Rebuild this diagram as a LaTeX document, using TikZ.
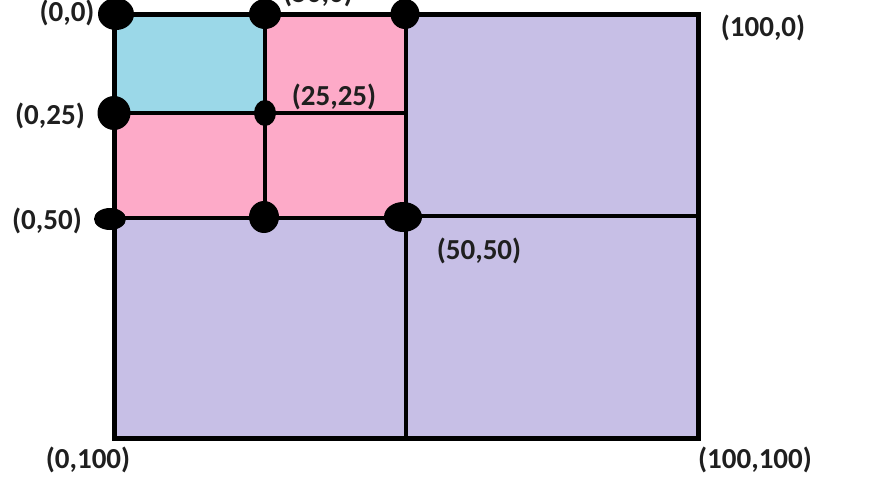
\documentclass[tikz,border=0pt]{standalone}
\usepackage{fontspec}
\setmainfont{Carlito}
\usetikzlibrary{positioning}
\usetikzlibrary{shapes.geometric}

\definecolor{cellcyan}{HTML}{9BD8E8}
\definecolor{cellpink}{HTML}{FDAAC8}
\definecolor{celllilac}{HTML}{C7BFE6}

\begin{document}
\begin{tikzpicture}[x=1pt, y=-1pt,
        frame line/.style={line width=5pt},
        grid line/.style={line width=4pt},
        point/.style={ellipse, fill=black, inner sep=0pt},
        coord label/.style={font=\bfseries\fontsize{29}{34}\selectfont, text=black!88},
    ]
    \useasboundingbox (0,0) rectangle (869,482);

    % Corners of the quadrants
    \coordinate (tl) at (114,14);
    \coordinate (tm) at (265,14);
    \coordinate (tc) at (406,14);
    \coordinate (tr) at (698,14);
    \coordinate (ql) at (114,113);
    \coordinate (qc) at (406,113);
    \coordinate (hl) at (114,218);
    \coordinate (hm) at (265,218);
    \coordinate (hc) at (406,218);
    \coordinate (hcr) at (406,216);
    \coordinate (hr) at (698,216);
    \coordinate (bl) at (114,438);
    \coordinate (bc) at (406,438);
    \coordinate (br) at (698,438);

    % Filled cells
    \fill[celllilac] (tl) rectangle (br);
    \fill[cellpink] (tl) rectangle (hc);
    \fill[cellcyan] (tl) rectangle (265,113);

    % Grid lines
    \draw[grid line] (tm) -- (hm);
    \draw[grid line] (tc) -- (bc);
    \draw[grid line] (ql) -- (qc);
    \draw[grid line] (hl) -- (hc);
    \draw[grid line] (hcr) -- (hr);
    \draw[frame line] (tl) rectangle (br);

    % Points
    \node[point, minimum width=36, minimum height=32] (p00) at (116,14) {};
    \node[point, minimum width=32, minimum height=30] (p250) at (265,14) {};
    \node[point, minimum width=29, minimum height=30] (p500) at (405,14) {};
    \node[point, minimum width=33, minimum height=34] (p025) at (114,113) {};
    \node[point, minimum width=22, minimum height=26] (p2525) at (265,113) {};
    \node[point, minimum width=32, minimum height=22] (p050) at (110,219) {};
    \node[point, minimum width=30, minimum height=32] (p2550) at (264,217) {};
    \node[point, minimum width=38, minimum height=30] (p5050) at (403,217) {};

    % Labels
    \node[coord label] (l00) at (67,13) {(0,0)};
    \node[coord label] (l500) at (318,-6) {(50,0)};
    \node[coord label] (l2525) at (334,97) {(25,25)};
    \node[coord label] (l025) at (50,116) {(0,25)};
    \node[coord label] (l050) at (47,221) {(0,50)};
    \node[coord label] (l5050) at (479,251) {(50,50)};
    \node[coord label] (l1000) at (763,28) {(100,0)};
    \node[coord label] (l0100) at (88,460) {(0,100)};
    \node[coord label] (l100100) at (755,460) {(100,100)};

\end{tikzpicture}
\end{document}
